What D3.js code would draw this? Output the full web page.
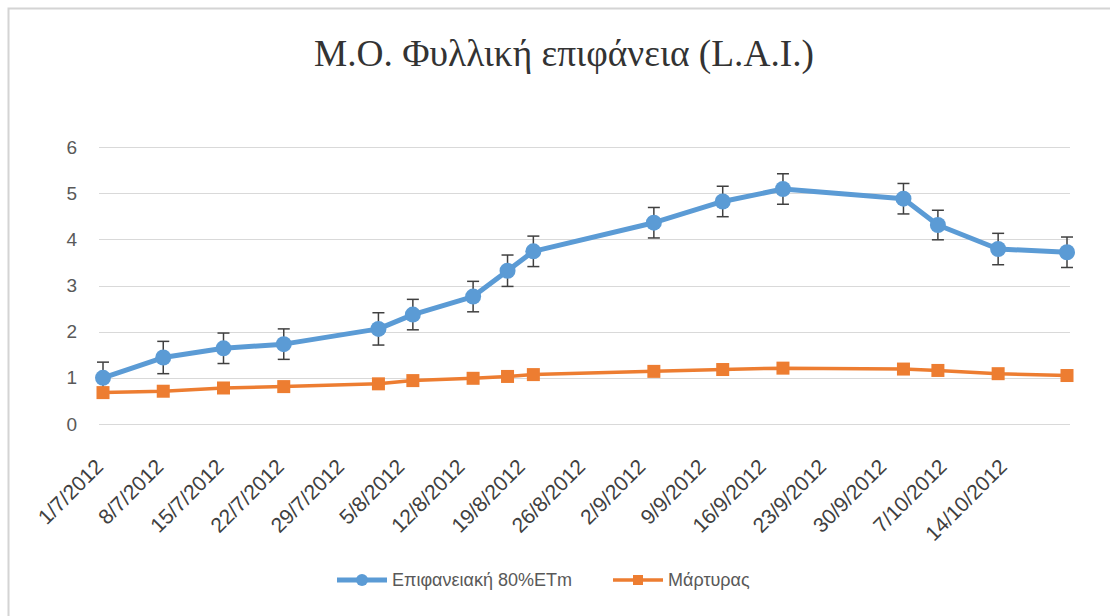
<!DOCTYPE html>
<html>
<head>
<meta charset="utf-8">
<script src="https://cdn.jsdelivr.net/npm/d3@7"></script>
<style>
	html, body { margin: 0; padding: 0; background: #fff; }
	svg { display: block; }
</style>
</head>
<body>
<svg id="chart" width="1110" height="616"></svg>
<script>
	"use strict";

	// sampling dates (d/m/yyyy)
	var aDates = ["1/7/2012", "8/7/2012", "15/7/2012", "22/7/2012", "2/8/2012", "6/8/2012",
		"13/8/2012", "17/8/2012", "20/8/2012", "3/9/2012", "11/9/2012", "18/9/2012",
		"2/10/2012", "6/10/2012", "13/10/2012", "21/10/2012"];
	var aSurface = [1.00, 1.44, 1.64, 1.73, 2.06, 2.37, 2.76, 3.32, 3.74, 4.36, 4.82, 5.09, 4.88, 4.31, 3.79, 3.72];
	var aSurfaceErr = [0.34, 0.35, 0.33, 0.33, 0.35, 0.33, 0.33, 0.34, 0.33, 0.33, 0.33, 0.33, 0.33, 0.32, 0.34, 0.33];
	var aControl = [0.68, 0.71, 0.78, 0.81, 0.87, 0.94, 0.99, 1.03, 1.07, 1.14, 1.18, 1.21, 1.19, 1.16, 1.09, 1.05];
	var aTickLabels = ["1/7/2012", "8/7/2012", "15/7/2012", "22/7/2012", "29/7/2012", "5/8/2012",
		"12/8/2012", "19/8/2012", "26/8/2012", "2/9/2012", "9/9/2012", "16/9/2012",
		"23/9/2012", "30/9/2012", "7/10/2012", "14/10/2012"];
	var aYTicks = [0, 1, 2, 3, 4, 5, 6];
	var aSeriesNames = ["Επιφανειακή 80%ETm", "Μάρτυρας"];

	var sBlue = "#5B9BD5", sOrange = "#ED7D31";
	var parseDate = d3.timeParse("%d/%m/%Y");

	var aSeries = [
		{ name: aSeriesNames[0], color: sBlue, values: aSurface, err: aSurfaceErr },
		{ name: aSeriesNames[1], color: sOrange, values: aControl, err: null }
	];

	var selSvg = d3.select("#chart");

	// frame around the chart
	selSvg.append("rect")
		.attr("x", 8.5).attr("y", 8.5)
		.attr("width", 1110).attr("height", 620)
		.attr("fill", "#fff")
		.attr("stroke", "#d4d4d4")
		.attr("stroke-width", 2);

	var x = d3.scaleTime()
		.domain([parseDate("1/7/2012"), parseDate("21/10/2012")])
		.range([103, 1067]);
	var y = d3.scaleLinear()
		.domain([0, 6])
		.range([424, 147]);

	// gridlines
	selSvg.append("g")
		.selectAll("line")
		.data(aYTicks)
		.enter().append("line")
		.attr("x1", x.range()[0] - 4)
		.attr("x2", x.range()[1] + 3)
		.attr("y1", function (d) { return Math.round(y(d)) + 0.5; })
		.attr("y2", function (d) { return Math.round(y(d)) + 0.5; })
		.attr("stroke", "#d9d9d9")
		.attr("stroke-width", 1);

	// y axis labels
	var yAxis = d3.axisLeft(y).tickValues(aYTicks).tickFormat(d3.format("d")).tickSize(0).tickPadding(0);
	var selY = selSvg.append("g")
		.attr("transform", "translate(77,0)")
		.call(yAxis);
	selY.select(".domain").remove();
	selY.selectAll("text")
		.attr("font-family", "'Liberation Sans', Arial, sans-serif")
		.attr("font-size", "19px")
		.attr("fill", "#595959");

	// x axis labels, rotated
	var xAxis = d3.axisBottom(x)
		.tickValues(aTickLabels.map(parseDate))
		.tickSize(0)
		.tickFormat(function (d, i) { return aTickLabels[i]; });
	var selX = selSvg.append("g")
		.attr("transform", "translate(0," + y(0) + ")")
		.call(xAxis);
	selX.select(".domain").remove();
	selX.selectAll("text")
		.attr("font-family", "'Liberation Sans', Arial, sans-serif")
		.attr("font-size", "21px")
		.attr("fill", "#404040")
		.attr("text-anchor", "end")
		.attr("dy", null)
		.attr("y", null)
		.attr("transform", "translate(1,44) rotate(-45)");

	var line = d3.line()
		.x(function (d) { return x(parseDate(d.date)); })
		.y(function (d) { return y(d.v); });

	aSeries.forEach(function (oSeries, iSeries) {
		var aPts = oSeries.values.map(function (v, i) {
			return { date: aDates[i], v: v, e: oSeries.err ? oSeries.err[i] : 0 };
		});
		var selG = selSvg.append("g");

		selG.append("path")
			.datum(aPts)
			.attr("fill", "none")
			.attr("stroke", oSeries.color)
			.attr("stroke-width", iSeries === 0 ? 5 : 3.5)
			.attr("stroke-linejoin", "round")
			.attr("d", line);

		if (oSeries.err) {
			var selErr = selG.selectAll("g.err").data(aPts).enter().append("g").attr("class", "err")
				.attr("stroke", "#404040").attr("stroke-width", 1.5);
			selErr.append("line")
				.attr("x1", function (d) { return x(parseDate(d.date)); })
				.attr("x2", function (d) { return x(parseDate(d.date)); })
				.attr("y1", function (d) { return y(d.v + d.e); })
				.attr("y2", function (d) { return y(d.v - d.e); });
			[1, -1].forEach(function (s) {
				selErr.append("line")
					.attr("x1", function (d) { return x(parseDate(d.date)) - 6; })
					.attr("x2", function (d) { return x(parseDate(d.date)) + 6; })
					.attr("y1", function (d) { return y(d.v + s * d.e); })
					.attr("y2", function (d) { return y(d.v + s * d.e); });
			});
		}

		if (iSeries === 0) {
			selG.selectAll("circle").data(aPts).enter().append("circle")
				.attr("cx", function (d) { return x(parseDate(d.date)); })
				.attr("cy", function (d) { return y(d.v); })
				.attr("r", 8)
				.attr("fill", oSeries.color);
		} else {
			selG.selectAll("rect").data(aPts).enter().append("rect")
				.attr("x", function (d) { return x(parseDate(d.date)) - 6.5; })
				.attr("y", function (d) { return y(d.v) - 6.5; })
				.attr("width", 13)
				.attr("height", 13)
				.attr("fill", oSeries.color);
		}
	});

	// title
	selSvg.append("text")
		.attr("x", 564)
		.attr("y", 66)
		.attr("text-anchor", "middle")
		.attr("font-family", "'Liberation Serif', 'Times New Roman', serif")
		.attr("font-size", "37px")
		.attr("textLength", 500)
		.attr("lengthAdjust", "spacingAndGlyphs")
		.attr("fill", "#333")
		.text("Μ.Ο. Φυλλική επιφάνεια (L.A.I.)");

	// legend
	var aLegendX = [337, 613];
	var selLegend = selSvg.append("g");
	aSeries.forEach(function (oSeries, i) {
		var iX = aLegendX[i], iY = 580;
		selLegend.append("line")
			.attr("x1", iX).attr("x2", iX + 50)
			.attr("y1", iY).attr("y2", iY)
			.attr("stroke", oSeries.color)
			.attr("stroke-width", i === 0 ? 5 : 3.5);
		if (i === 0) {
			selLegend.append("circle").attr("cx", iX + 25).attr("cy", iY).attr("r", 6).attr("fill", oSeries.color);
		} else {
			selLegend.append("rect").attr("x", iX + 20).attr("y", iY - 5).attr("width", 10).attr("height", 10).attr("fill", oSeries.color);
		}
		selLegend.append("text")
			.attr("x", iX + 55)
			.attr("y", iY + 6)
			.attr("font-family", "'Liberation Sans', Arial, sans-serif")
			.attr("font-size", "18px")
			.attr("fill", "#595959")
			.text(oSeries.name);
	});
</script>
</body>
</html>
